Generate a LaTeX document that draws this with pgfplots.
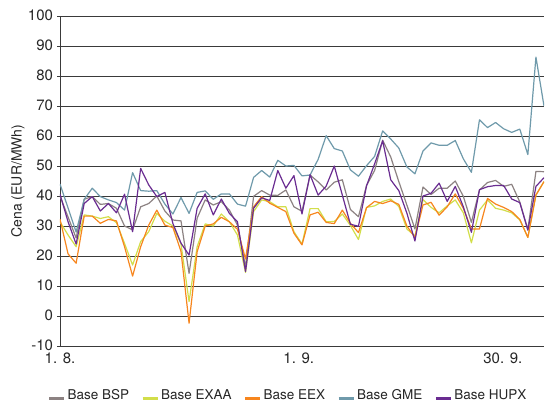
\documentclass[border=0pt]{standalone}
\usepackage{pgfplots}
\usepackage{pgfplotstable}
\pgfplotsset{compat=1.18}
\usepackage{fontspec}
\setmainfont{TeX Gyre Heros}

\definecolor{cBSP}{HTML}{8C8282}
\definecolor{cEXAA}{HTML}{D2DE4A}
\definecolor{cEEX}{HTML}{F7861E}
\definecolor{cGME}{HTML}{6F9AAB}
\definecolor{cHUPX}{HTML}{6A2C91}
\definecolor{cGrid}{HTML}{3A3A3A}

\pgfplotstableread{
i BSP EXAA EEX GME HUPX
0 40.0 31.4 32.3 44.0 40.6
1 33.0 27.0 20.7 36.0 31.4
2 26.0 23.1 17.6 28.0 24.0
3 38.9 33.7 33.3 38.9 37.5
4 39.8 33.3 33.3 42.6 39.8
5 37.2 32.5 30.9 39.8 35.0
6 37.5 33.1 32.2 38.7 37.5
7 35.9 31.1 31.7 37.8 34.4
8 30.0 24.2 23.1 35.3 40.6
9 28.7 17.0 13.3 47.8 28.1
10 36.4 24.8 23.1 41.8 49.2
11 37.5 28.1 30.3 41.6 43.7
12 40.0 34.2 35.3 41.8 39.8
13 35.0 31.6 30.3 37.3 41.2
14 32.0 30.0 29.5 34.0 30.8
15 31.7 24.0 21.5 39.5 24.3
16 14.2 4.8 -2.4 34.2 20.3
17 32.6 23.1 21.4 41.2 35.9
18 38.7 30.7 30.0 41.7 40.7
19 37.0 30.0 30.7 38.9 33.7
20 38.1 34.0 32.9 40.7 39.0
21 35.3 31.4 31.4 40.7 34.2
22 30.3 27.0 28.9 37.3 31.4
23 16.4 14.5 19.0 36.6 14.8
24 39.9 34.8 36.4 46.2 35.9
25 41.8 38.7 39.8 48.5 39.4
26 40.3 38.1 37.6 46.3 38.5
27 40.2 36.4 36.2 51.9 48.5
28 42.0 36.4 34.8 50.0 42.6
29 36.4 28.1 27.6 50.2 46.8
30 34.9 24.0 23.7 46.7 34.0
31 47.0 35.8 33.7 47.0 47.1
32 44.7 35.8 34.6 52.2 40.3
33 42.0 31.4 31.2 60.1 43.3
34 44.6 31.5 30.8 55.8 50.0
35 45.4 34.0 35.3 55.0 40.3
36 35.5 30.2 30.9 48.7 30.6
37 33.1 25.5 27.8 46.6 29.9
38 43.5 36.2 36.1 50.1 43.4
39 48.5 36.7 38.2 53.2 50.7
40 58.6 38.2 37.5 61.7 58.4
41 53.0 39.0 38.4 59.0 45.4
42 44.8 36.5 37.2 56.0 41.8
43 37.0 29.0 30.0 49.7 34.3
44 29.0 26.7 26.2 47.4 25.0
45 43.0 38.8 37.0 55.0 40.0
46 40.5 36.2 37.9 57.7 40.9
47 42.6 34.4 33.6 56.9 44.3
48 42.6 36.7 36.4 56.9 38.2
49 45.0 38.7 40.7 58.5 43.2
50 39.9 34.4 35.9 52.4 36.4
51 31.2 24.4 29.0 47.9 27.9
52 42.0 35.3 29.0 65.4 42.1
53 44.5 38.7 39.2 62.8 43.1
54 45.2 35.9 37.3 64.5 43.5
55 43.2 35.3 36.2 62.4 43.5
56 43.9 34.4 34.8 61.2 39.0
57 38.0 32.0 32.2 62.3 37.8
58 28.8 26.2 26.2 53.8 28.6
59 48.2 40.3 40.3 86.3 43.2
60 48.1 44.8 44.8 70.0 46.1
}\data

\begin{document}
\begin{tikzpicture}
\begin{axis}[
  scale only axis, width=484pt, height=330pt,
  xmin=0, xmax=60, ymin=-10, ymax=100,
  ytick={-10,0,...,100},
  xtick={0,29.6,54.9},
  xticklabels={1. 8.,1. 9.,30. 9.},
  axis x line*=bottom, axis y line*=left,
  axis line style={-, cGrid, line width=0.8pt},
  x tick style={draw=none},
  y tick style={cGrid, line width=0.8pt},
  tick align=center, major tick length=5pt,
  ymajorgrids, major grid style={cGrid, line width=0.8pt},
  /pgf/number format/assume math mode=true,
  ticklabel style={font=\fontsize{15}{17}\selectfont, text=black!85},
  yticklabel style={xshift=-1pt, yshift=0.5pt},
  xticklabel style={yshift=-0.5pt},
  ylabel={Cena (EUR/MWh)},
  ylabel style={at={(rel axis cs:0,0.5)}, anchor=center, yshift=42pt, font=\fontsize{14}{16}\selectfont, text=black!85},
  legend columns=5,
  legend style={draw=none, fill=none, at={(0.471,-0.176)}, anchor=south,
    font=\fontsize{13.5}{15}\selectfont, text=black!85, inner sep=1pt,
    /tikz/every even column/.append style={column sep=10pt}},
  legend image code/.code={\draw[#1, line width=3pt] (0pt,-0.32em) -- (15pt,-0.32em);},
  every axis plot/.append style={line width=1.2pt, line join=round},
]
\addplot[color=cBSP] table[x=i, y=BSP] {\data};
\addlegendentry{Base BSP}
\addplot[color=cEXAA] table[x=i, y=EXAA] {\data};
\addlegendentry{Base EXAA}
\addplot[color=cEEX] table[x=i, y=EEX] {\data};
\addlegendentry{Base EEX}
\addplot[color=cGME] table[x=i, y=GME] {\data};
\addlegendentry{Base GME}
\addplot[color=cHUPX] table[x=i, y=HUPX] {\data};
\addlegendentry{Base HUPX}
\coordinate (ll) at (rel axis cs:0,0);
\coordinate (ur) at (rel axis cs:1,1);
\end{axis}
\pgfresetboundingbox
\path ([shift={(-60pt,-59pt)}]ll) rectangle ([shift={(4pt,16pt)}]ur);
\end{tikzpicture}
\end{document}
